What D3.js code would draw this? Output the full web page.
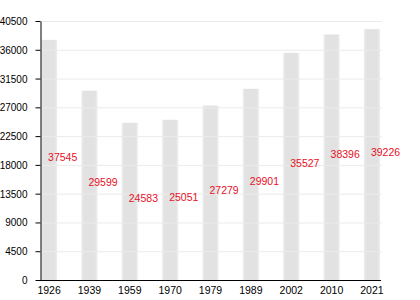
<!DOCTYPE html>
<meta charset="utf-8">
<style>
 body { margin: 0; background: #fff; }
 svg { font-family: "Liberation Sans", Arial, sans-serif; font-size: 10.5px; }
 .axis path, .axis line { stroke: #000; }
 .axis text { fill: #000; }
 .grid line { stroke: #ebebeb; }
 .vals text { fill: #e8101f; }
</style>
<svg width="420" height="300"></svg>
<script src="https://cdn.jsdelivr.net/npm/d3@7"></script>
<script>
 var years = ['1926', '1939', '1959', '1970', '1979', '1989', '2002', '2010', '2021']
 var population = [37545, 29599, 24583, 25051, 27279, 29901, 35527, 38396, 39226]
 var yTicks = [0, 4500, 9000, 13500, 18000, 22500, 27000, 31500, 36000, 40500]

 var svg = d3.select('svg')

 var x = d3.scaleBand()
           .domain(years)
           .range([41, 380])
           .paddingInner(0.6)
           .paddingOuter(0)

 var y = d3.scaleLinear()
           .domain([0, 40500])
           .range([280, 21])

 // soft edged bars
 var grad = svg.append('defs').append('linearGradient')
               .attr('id', 'bar')
               .attr('x1', 0).attr('x2', 1).attr('y1', 0).attr('y2', 0)
 grad.append('stop').attr('offset', '0%').attr('stop-color', '#eeeeee')
 grad.append('stop').attr('offset', '15%').attr('stop-color', '#e2e2e2')
 grad.append('stop').attr('offset', '85%').attr('stop-color', '#e2e2e2')
 grad.append('stop').attr('offset', '100%').attr('stop-color', '#eeeeee')

 svg.append('g')
    .selectAll('rect')
    .data(population)
    .join('rect')
    .attr('x', (d, i) => x(years[i]))
    .attr('width', x.bandwidth())
    .attr('y', d => y(d))
    .attr('height', d => y(0) - y(d))
    .attr('fill', 'url(#bar)')

 svg.append('g')
    .attr('class', 'grid')
    .selectAll('line')
    .data(yTicks.slice(1))
    .join('line')
    .attr('x1', 41)
    .attr('x2', 382)
    .attr('y1', d => y(d) + 0.5)
    .attr('y2', d => y(d) + 0.5)

 svg.append('g')
    .attr('class', 'vals')
    .selectAll('text')
    .data(population)
    .join('text')
    .attr('x', (d, i) => x(years[i]) + x.bandwidth() / 2 - 1)
    .attr('y', d => y(d / 2) + 1)
    .text(d => d)

 svg.append('g')
    .attr('class', 'axis')
    .attr('transform', 'translate(40.5,0)')
    .call(d3.axisLeft(y).tickValues(yTicks).tickFormat(d3.format('d'))
            .tickSize(5).tickPadding(8).tickSizeOuter(0))
    .call(g => g.selectAll('text').attr('dy', '0.35em'))

 svg.append('g')
    .attr('class', 'axis')
    .attr('transform', 'translate(0,280.5)')
    .call(d3.axisBottom(x).tickSize(0).tickPadding(6).tickSizeOuter(0))
    .call(g => g.select('.domain').attr('d', 'M40,0H381'))
    .call(g => g.selectAll('text').attr('font-size', '10.5px'))
</script>
